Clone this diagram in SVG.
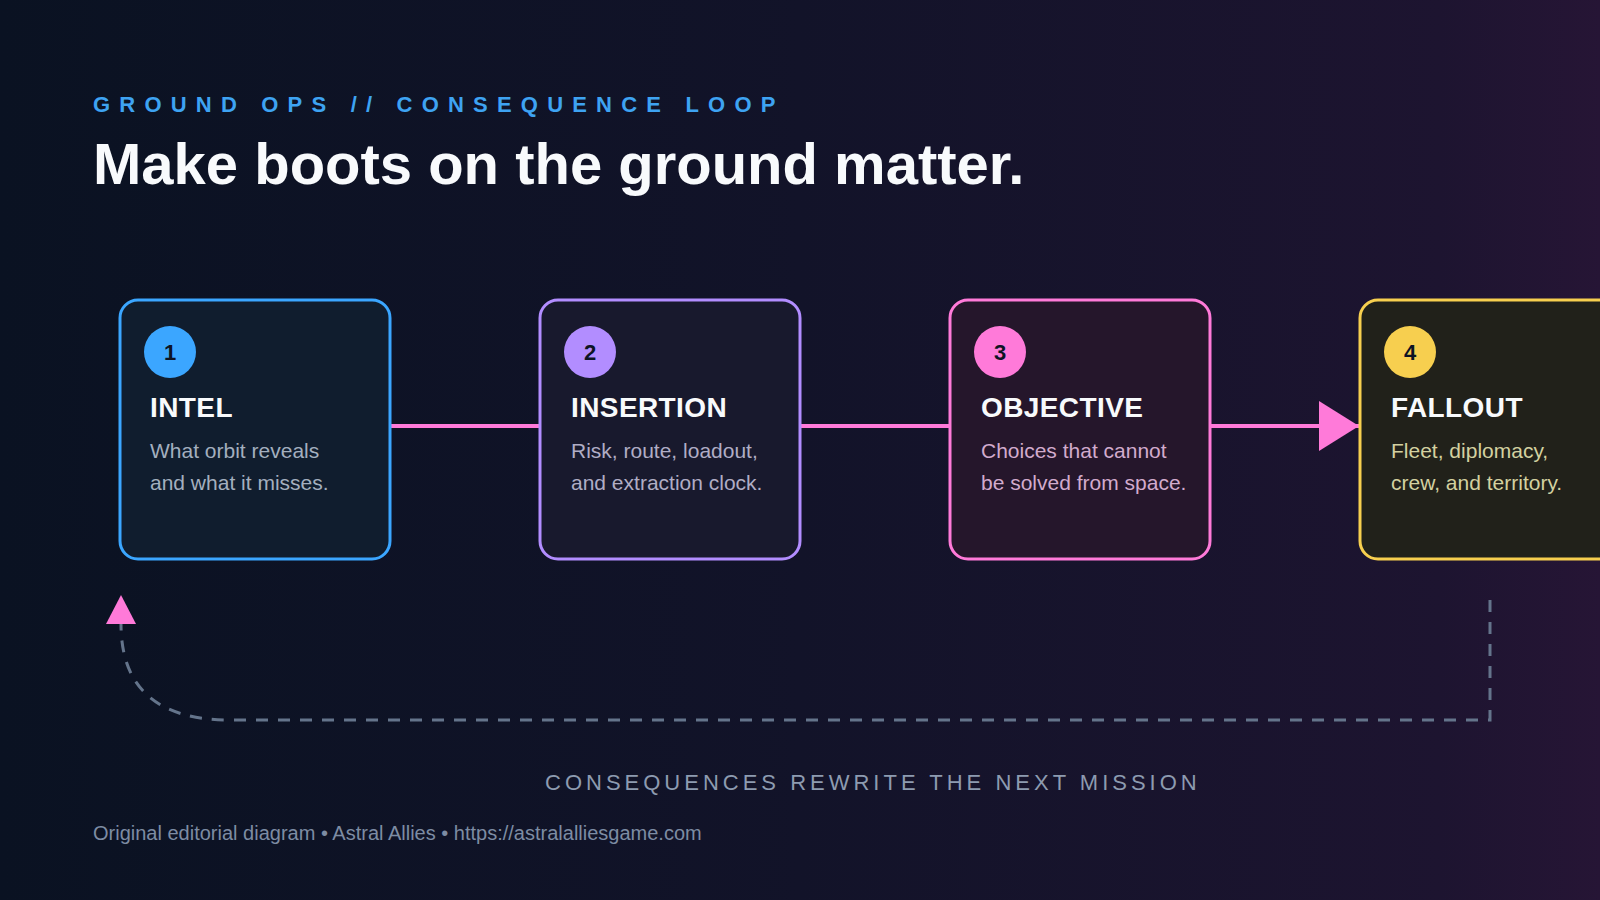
<svg xmlns="http://www.w3.org/2000/svg" width="1600" height="900" viewBox="0 0 1600 900">
  <defs>
    <linearGradient id="bg" x1="0" y1="0" x2="1" y2="0">
      <stop offset="0" stop-color="#0a1222"/>
      <stop offset="0.5" stop-color="#121329"/>
      <stop offset="0.9" stop-color="#1d1430"/>
      <stop offset="1" stop-color="#261535"/>
    </linearGradient>
    <marker id="arrowBig" markerUnits="userSpaceOnUse" markerWidth="40" markerHeight="50" viewBox="0 0 40 50" refX="40" refY="25" orient="auto">
      <path d="M0 0 L40 25 L0 50 Z" fill="#ff7ad9"/>
    </marker>
    <marker id="arrowLoop" markerUnits="userSpaceOnUse" markerWidth="29" markerHeight="30" viewBox="0 0 29 30" refX="0" refY="15" orient="auto">
      <path d="M0 0 L29 15 L0 30 Z" fill="#ff7ad9"/>
    </marker>
    <style>
      .kicker { font-family: "Liberation Sans", Arial, sans-serif; font-weight: 700; font-size: 22px; letter-spacing: 9.2px; fill: #3ea3f2; }
      .title { font-family: "Liberation Sans", Arial, sans-serif; font-weight: 700; font-size: 58px; letter-spacing: 0px; fill: #f8fafc; }
      .card { stroke-width: 3; }
      .num { font-family: "Liberation Sans", Arial, sans-serif; font-weight: 700; font-size: 22px; fill: #0d1424; text-anchor: middle; }
      .head { font-family: "Liberation Sans", Arial, sans-serif; font-weight: 700; font-size: 28px; letter-spacing: 0.4px; fill: #f8fafc; }
      .desc { font-family: "Liberation Sans", Arial, sans-serif; font-size: 21px; }
      .flow { stroke: #ff7ad9; stroke-width: 4; fill: none; }
      .loop { stroke: #64748b; stroke-width: 3; fill: none; stroke-dasharray: 12 10; }
      .caption { font-family: "Liberation Sans", Arial, sans-serif; font-size: 22px; letter-spacing: 4px; fill: #8d9bb0; }
      .footer { font-family: "Liberation Sans", Arial, sans-serif; font-size: 20px; fill: #7d8ca3; }
    </style>
  </defs>

  <rect x="0" y="0" width="1600" height="900" fill="url(#bg)"/>

  <text class="kicker" x="93" y="112">GROUND OPS // CONSEQUENCE LOOP</text>
  <text class="title" x="93" y="184">Make boots on the ground matter.</text>

  <g id="connectors">
    <line class="flow" x1="391" y1="426" x2="539" y2="426"/>
    <line class="flow" x1="801" y1="426" x2="949" y2="426"/>
    <line class="flow" x1="1211" y1="426" x2="1359" y2="426" marker-end="url(#arrowBig)"/>
    <path class="loop" d="M1490 600 V720 H230 Q121 720 121 624" marker-end="url(#arrowLoop)"/>
  </g>

  <g id="node-intel">
    <rect class="card" x="120" y="300" width="270" height="259" rx="18" fill="#101d2e" stroke="#3ba6ff"/>
    <circle cx="170" cy="352" r="26" fill="#3ba6ff"/>
    <text class="num" x="170" y="360">1</text>
    <text class="head" x="150" y="417">INTEL</text>
    <text class="desc" x="150" y="458" fill="#a3afbf">What orbit reveals</text>
    <text class="desc" x="150" y="490" fill="#a3afbf">and what it misses.</text>
  </g>

  <g id="node-insertion">
    <rect class="card" x="540" y="300" width="260" height="259" rx="18" fill="#18192d" stroke="#b28dff"/>
    <circle cx="590" cy="352" r="26" fill="#b28dff"/>
    <text class="num" x="590" y="360">2</text>
    <text class="head" x="571" y="417">INSERTION</text>
    <text class="desc" x="571" y="458" fill="#b0adc5">Risk, route, loadout,</text>
    <text class="desc" x="571" y="490" fill="#b0adc5">and extraction clock.</text>
  </g>

  <g id="node-objective">
    <rect class="card" x="950" y="300" width="260" height="259" rx="18" fill="#25162b" stroke="#ff7ad9"/>
    <circle cx="1000" cy="352" r="26" fill="#ff7ad9"/>
    <text class="num" x="1000" y="360">3</text>
    <text class="head" x="981" y="417">OBJECTIVE</text>
    <text class="desc" x="981" y="458" fill="#d2abcd">Choices that cannot</text>
    <text class="desc" x="981" y="490" fill="#d2abcd">be solved from space.</text>
  </g>

  <g id="node-fallout">
    <rect class="card" x="1360" y="300" width="260" height="259" rx="18" fill="#21211a" stroke="#f7cf4f"/>
    <circle cx="1410" cy="352" r="26" fill="#f7cf4f"/>
    <text class="num" x="1410" y="360">4</text>
    <text class="head" x="1391" y="417">FALLOUT</text>
    <text class="desc" x="1391" y="458" fill="#d3d1a0">Fleet, diplomacy,</text>
    <text class="desc" x="1391" y="490" fill="#d3d1a0">crew, and territory.</text>
  </g>

  <text class="caption" x="545" y="790">CONSEQUENCES REWRITE THE NEXT MISSION</text>
  <text class="footer" x="93" y="840">Original editorial diagram • Astral Allies • https://astralalliesgame.com</text>
</svg>
